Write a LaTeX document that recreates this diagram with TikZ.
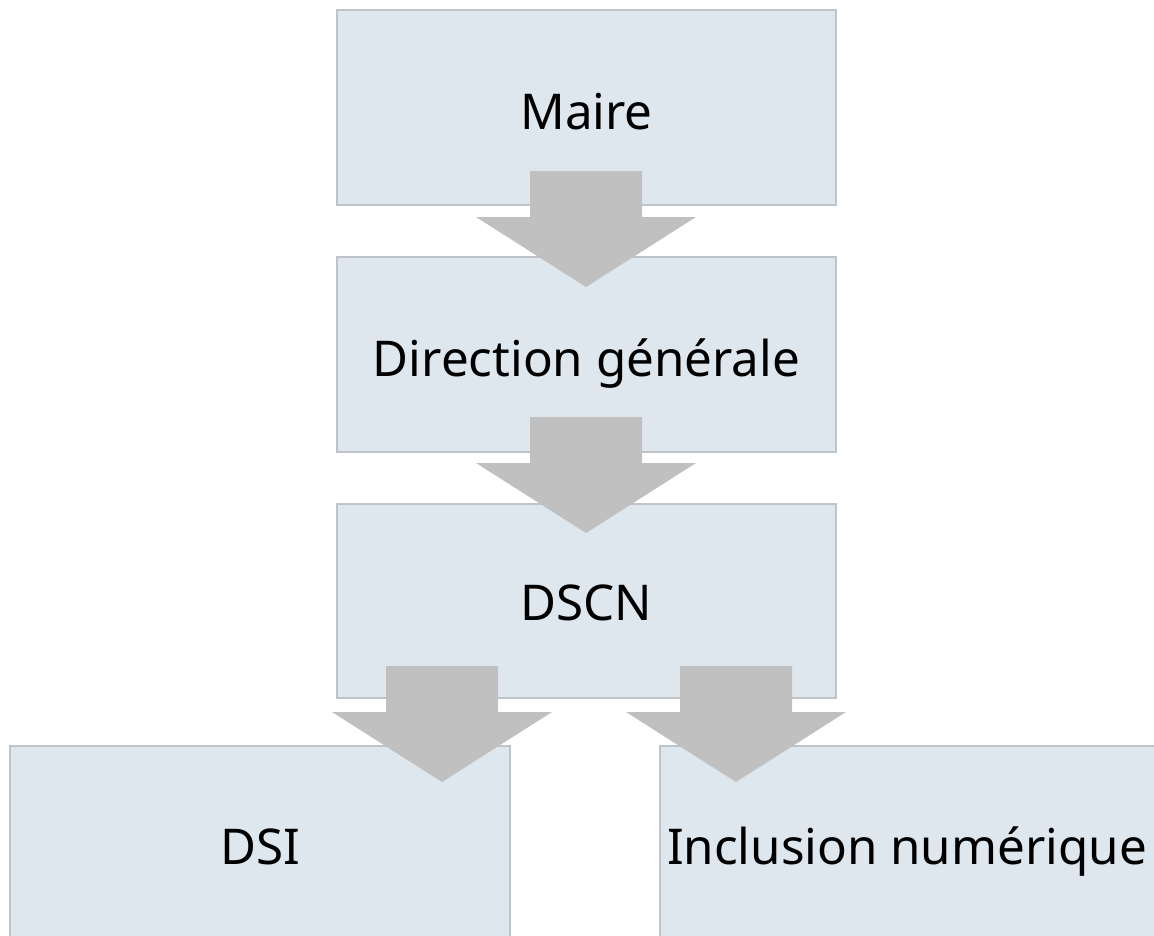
\documentclass[tikz,border=0pt]{standalone}
\usepackage{fontspec}
\setmainfont{Noto Sans}
\definecolor{boxfill}{HTML}{DEE6EE}
\definecolor{boxline}{HTML}{BFC4CA}
\definecolor{arrowfill}{HTML}{C0C0C0}
\begin{document}
\begin{tikzpicture}[x=1pt,y=-1pt,
  orgbox/.style={draw=boxline,fill=boxfill,line width=1.2pt},
  lbl/.style={anchor=base,inner sep=0pt,font=\fontsize{49.3}{59}\selectfont},
  blockarrow/.style={fill=arrowfill}]
\useasboundingbox (0,0) rectangle (1154,935);
\clip (0,0) rectangle (1154,935);
% boxes
\draw[orgbox] (337,10) rectangle (836,205);
\draw[orgbox] (337,257) rectangle (836,452);
\draw[orgbox] (337,504) rectangle (836,698);
\draw[orgbox] (10,746) rectangle (510,945);
\draw[orgbox] (660,746) rectangle (1170,945);
% labels
\node[lbl] (maire) at (586.5,129) {Maire};
\node[lbl] (dg) at (586.5,376) {Direction générale};
\node[lbl] (dscn) at (586.5,620) {DSCN};
\node[lbl] (dsi) at (260,864) {DSI};
\node[lbl] (incl) at (907,864) {Inclusion numérique};
% block arrows
\coordinate (a1) at (586,171);
\coordinate (a2) at (586,417);
\coordinate (a3) at (442,666);
\coordinate (a4) at (736,666);
\foreach \a in {a1,a2,a3,a4}{
  \fill[blockarrow] (\a) ++(-56,0) -- ++(112,0) -- ++(0,46) -- ++(54,0)
    -- ++(-110,70) -- ++(-110,-70) -- ++(54,0) -- cycle;
}
\end{tikzpicture}
\end{document}
